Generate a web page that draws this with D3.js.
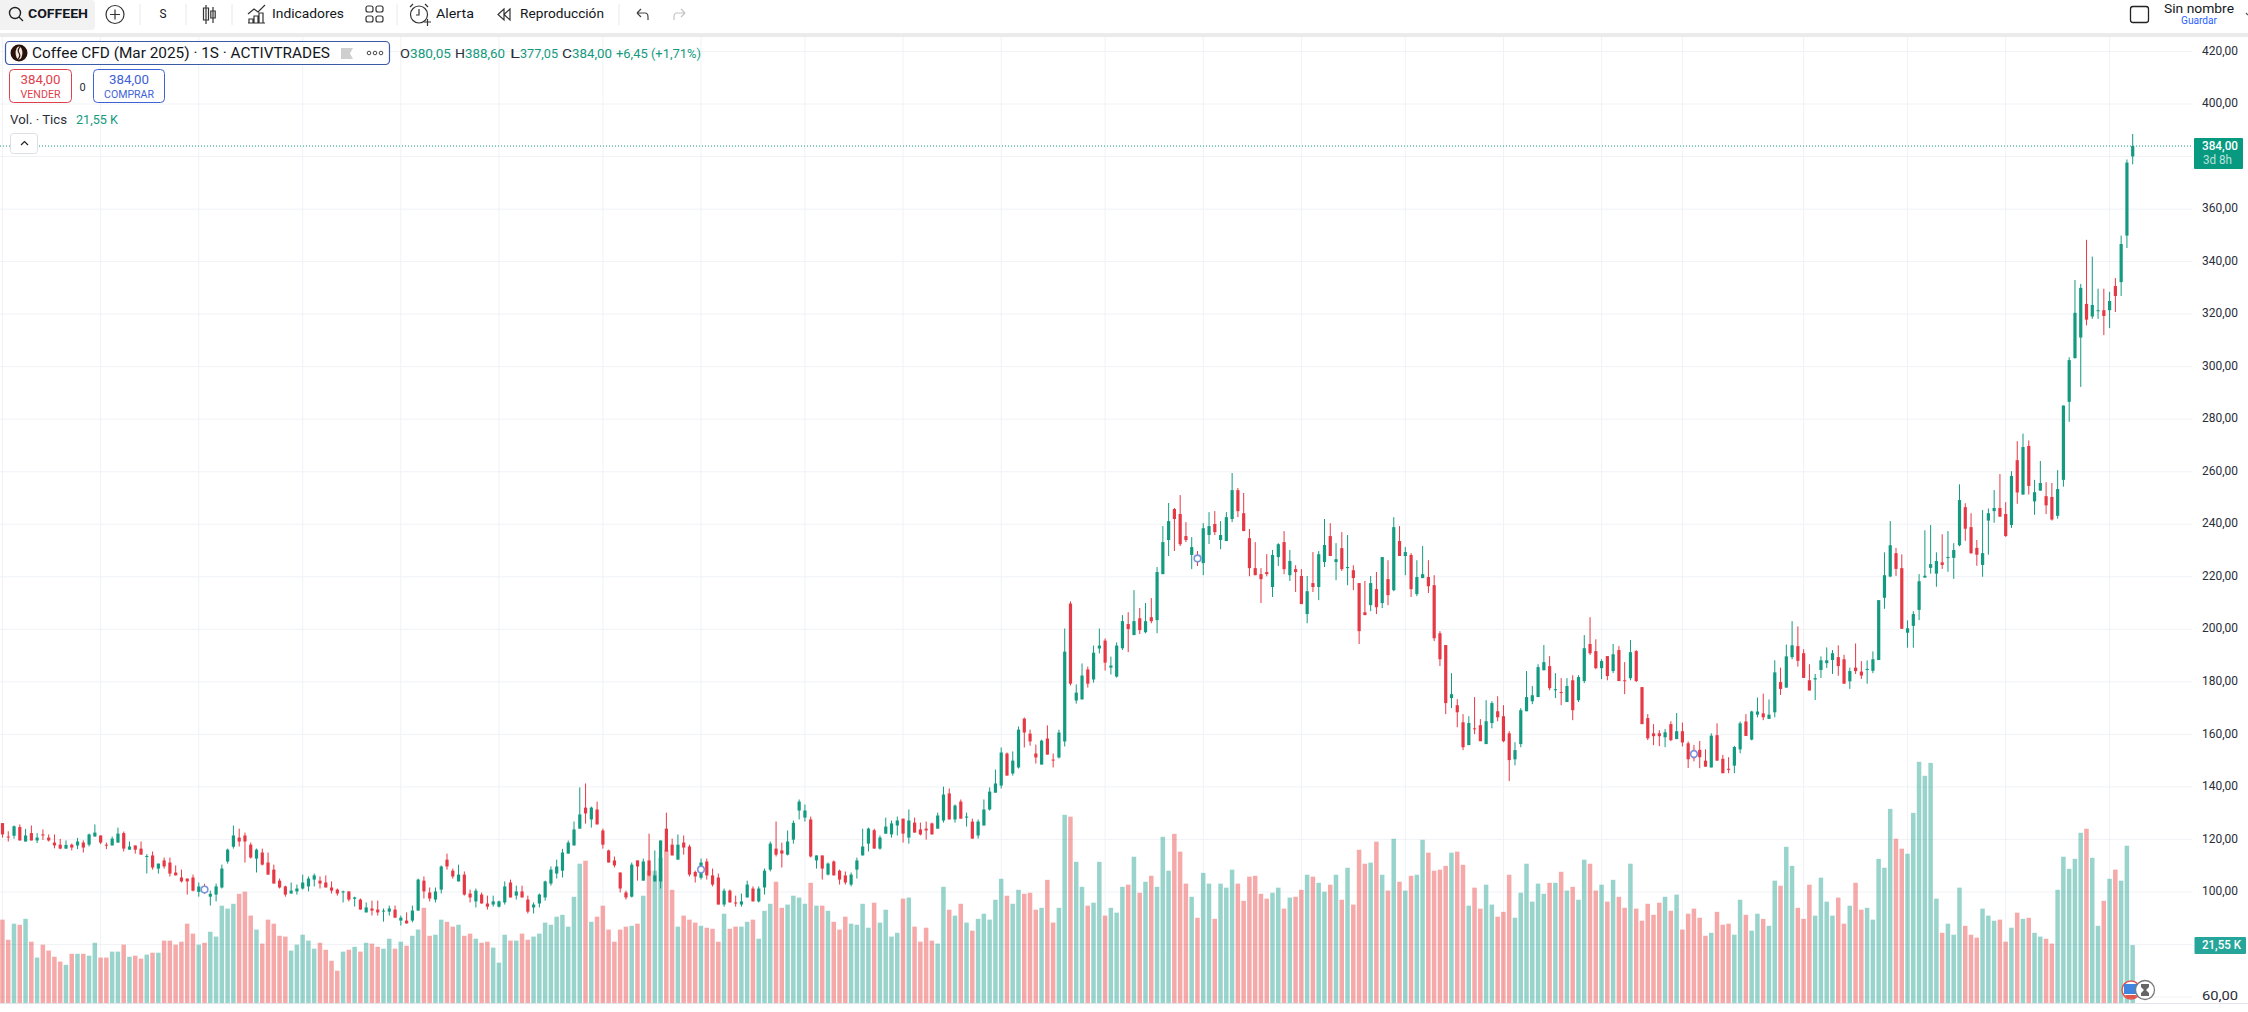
<!DOCTYPE html>
<html>
<head>
<meta charset="utf-8">
<title>Coffee CFD (Mar 2025)</title>
<script src="https://cdn.jsdelivr.net/npm/d3@7"></script>
<style>
  html, body { margin: 0; background: #fff; overflow: hidden; }
  text { font-family: Roboto, "Noto Sans", sans-serif; fill: #131722; }
</style>
</head>
<body>
<div id="chart"></div>
<script>
// weekly candles, oldest first
const opens = [
  126.2,121.1,121.4,124.7,119.2,122.4,119.6,121.9,120.7,118.8,
  118.0,116.5,118.0,117.7,118.8,118.0,121.1,121.5,118.0,117.7,
  118.8,122.4,116.1,117.7,116.5,113.4,113.9,108.9,112.0,111.2,
  107.4,105.5,105.1,105.5,100.0,101.8,98.2,99.0,101.7,111.6,
  117.2,120.7,121.5,118.0,112.7,115.0,111.2,108.5,104.3,102.1,
  99.4,100.2,101.3,102.1,104.7,104.3,103.6,101.7,100.9,99.9,
  100.2,97.4,97.1,92.2,93.7,93.3,92.7,92.5,93.3,89.1,
  89.1,89.1,92.9,104.3,99.8,97.1,100.9,112.3,108.1,104.0,
  106.6,99.4,96.4,99.0,95.6,95.2,94.4,96.0,103.6,98.6,
  100.2,97.1,94.1,95.6,97.9,103.2,107.0,108.1,114.6,117.7,
  124.1,132.1,127.6,131.4,123.4,115.8,112.0,107.4,99.8,98.2,
  112.0,104.3,112.0,104.0,104.0,124.1,118.0,112.3,118.8,117.3,
  107.6,105.4,111.6,106.3,105.5,95.2,100.5,96.0,95.2,97.9,
  101.3,96.4,101.7,108.5,116.5,115.8,114.2,119.9,131.0,128.3,
  127.6,112.0,113.9,106.6,111.6,108.1,106.3,102.8,108.5,113.9,
  118.4,123.5,116.5,122.2,121.9,125.3,127.9,120.7,126.4,123.8,
  124.1,126.1,124.1,127.2,137.5,127.6,134.4,128.3,126.8,121.5,
  125.3,131.4,137.8,140.5,152.7,145.1,147.4,166.0,160.3,152.7,
  148.5,158.4,150.4,151.2,157.3,209.8,172.9,173.3,184.7,180.9,
  192.7,195.7,185.4,182.0,192.8,202.0,197.8,204.2,198.9,204.6,
  203.5,221.0,234.0,245.8,243.9,235.5,228.3,228.3,225.2,235.9,
  240.1,234.0,233.6,242.0,253.0,244.2,234.7,223.3,221.0,221.8,
  216.1,227.5,233.2,220.6,222.9,220.3,205.8,217.6,216.1,225.6,
  235.5,225.6,230.9,223.3,222.5,217.6,206.5,209.2,215.3,210.0,
  219.1,214.9,233.6,227.9,228.3,213.4,219.5,219.9,216.8,198.5,
  194.0,173.8,171.1,164.6,155.9,162.3,163.5,156.3,164.3,168.8,
  166.9,160.4,150.5,156.3,168.8,172.6,174.2,184.4,186.0,176.8,
  176.1,172.3,180.6,173.0,180.3,194.4,191.7,185.2,189.8,184.1,
  192.1,180.6,181.4,191.7,178.0,166.2,160.4,160.4,158.9,163.9,
  158.2,161.2,156.6,154.1,154.1,150.0,147.4,159.7,150.7,146.9,
  148.1,154.3,164.9,158.0,167.5,168.0,165.9,168.4,179.9,177.8,
  189.4,193.6,190.9,180.6,180.9,184.5,187.1,188.3,189.4,188.6,
  180.2,185.4,183.9,184.5,184.2,188.3,212.0,220.1,229.0,223.3,
  198.7,201.3,207.4,219.7,223.4,221.2,225.5,227.2,227.2,232.0,
  246.5,238.9,231.0,224.5,241.4,245.0,246.2,243.9,239.7,264.4,
  251.3,269.8,248.7,252.8,250.7,250.4,243.2,256.9,286.6,303.3,
  311.1,323.9,319.1,321.2,321.5,321.5,330.7,332.2,349.9,380.05
]
const highs = [
  126.2,123.1,125.3,125.7,124.0,125.3,122.4,123.8,121.9,121.9,
  120.2,119.6,118.4,120.6,119.6,122.2,125.7,121.5,118.8,121.1,
  124.5,123.0,119.2,117.7,119.2,114.4,115.4,110.8,113.1,113.1,
  110.1,108.5,105.1,106.6,103.6,103.1,100.5,103.2,110.4,116.5,
  125.3,124.1,122.6,118.8,116.5,116.5,115.0,110.4,105.1,102.4,
  103.6,102.8,106.6,105.9,107.0,105.9,106.3,104.0,101.3,100.5,
  100.2,98.2,97.5,96.0,96.7,96.7,93.7,94.8,94.8,91.0,
  92.2,94.8,105.1,105.9,101.7,101.7,110.1,114.6,108.9,110.4,
  107.8,100.9,101.3,99.8,98.6,98.6,96.7,104.0,104.7,102.4,
  102.4,98.6,96.0,99.4,104.3,109.7,112.3,116.4,119.6,126.8,
  139.8,141.3,132.5,134.4,124.1,116.1,113.5,107.4,100.5,111.2,
  112.0,112.7,122.2,115.8,119.6,130.2,120.3,121.9,121.5,118.0,
  108.1,112.7,112.7,108.9,107.0,101.3,100.9,98.6,99.4,104.3,
  102.1,102.1,108.9,119.2,126.8,118.8,123.4,127.2,135.2,133.3,
  128.7,113.9,113.9,111.2,112.0,108.5,107.8,107.4,113.1,124.1,
  124.5,124.1,121.5,128.3,127.2,128.7,127.9,131.4,128.3,126.4,
  126.8,126.4,130.2,140.1,139.4,133.3,135.2,130.2,127.9,127.6,
  135.2,139.8,146.6,155.0,153.1,153.5,163.0,166.4,161.8,156.1,
  158.0,163.4,152.7,161.8,200.3,210.6,179.0,187.0,185.8,193.8,
  200.3,196.5,189.6,195.0,205.4,206.5,214.9,208.1,210.0,211.9,
  223.7,239.3,248.1,246.2,251.1,240.8,235.1,229.8,240.4,244.6,
  245.0,241.2,244.6,259.5,253.8,251.9,238.2,233.2,223.3,228.6,
  230.2,232.8,237.4,230.2,224.4,222.9,220.3,229.4,229.8,242.0,
  240.4,232.8,237.0,235.9,224.4,217.6,218.4,220.3,221.8,227.5,
  226.3,242.7,239.3,231.3,229.0,226.3,231.7,226.3,220.6,199.3,
  194.0,183.3,173.4,167.7,166.9,174.2,165.8,173.0,172.6,174.5,
  171.1,161.2,157.0,170.0,184.1,178.4,186.7,194.0,189.8,183.3,
  181.4,181.4,182.5,182.5,197.8,204.6,196.2,188.6,189.8,194.4,
  193.6,187.5,195.9,192.1,178.0,167.7,163.9,161.6,162.0,165.0,
  168.1,164.5,157.3,156.0,157.5,154.3,160.4,164.2,152.2,151.3,
  155.6,164.9,167.7,169.0,174.0,175.5,173.3,188.2,185.4,194.2,
  203.1,201.1,192.4,186.7,183.0,189.7,193.1,192.1,193.9,190.3,
  185.4,194.6,187.9,188.2,191.6,211.1,229.3,241.2,231.0,228.5,
  203.4,206.9,221.0,237.7,239.7,229.3,236.2,237.4,232.8,255.2,
  248.0,244.2,234.0,245.4,246.0,253.0,259.1,248.4,260.2,271.6,
  274.5,271.9,256.9,264.1,256.0,255.7,260.6,285.2,303.6,333.0,
  331.5,348.3,341.9,329.7,329.7,328.5,333.7,349.9,378.9,388.6
]
const lows = [
  120.7,119.2,120.3,119.6,119.2,119.6,118.6,119.8,119.2,116.6,
  116.3,116.4,115.8,116.3,115.0,117.3,121.1,118.2,116.3,117.7,
  118.8,115.4,116.1,114.6,114.2,107.0,108.5,107.0,108.9,105.9,
  106.3,103.6,99.0,100.2,98.2,99.3,94.8,96.4,101.3,110.8,
  116.5,117.3,111.2,112.7,107.4,110.1,106.6,103.2,101.3,98.2,
  99.4,99.0,100.9,100.2,102.1,101.3,101.7,99.4,98.6,96.0,
  96.4,94.4,93.3,92.2,91.0,91.0,88.7,91.0,90.2,87.2,
  88.0,88.4,92.9,97.5,96.4,96.0,99.4,108.5,105.1,104.0,
  98.6,96.0,94.1,95.6,93.3,94.4,94.1,95.2,97.9,97.1,
  97.9,91.8,91.8,94.1,96.7,102.4,105.1,105.5,114.6,117.7,
  124.1,126.0,124.5,125.7,116.5,111.2,109.3,99.8,97.1,97.9,
  104.3,104.3,105.9,104.0,101.3,115.4,113.9,112.3,114.2,105.9,
  103.6,104.7,104.7,102.1,95.2,94.4,96.0,94.4,94.4,97.9,
  96.4,96.0,99.0,107.8,113.5,109.3,113.9,118.4,127.6,126.8,
  113.1,108.9,104.7,106.3,106.3,102.8,102.8,102.1,105.1,113.9,
  115.4,116.5,116.1,122.2,120.7,121.5,118.8,118.4,122.6,121.5,
  119.9,121.9,124.1,126.4,127.6,126.4,127.9,124.9,120.3,120.3,
  125.3,131.0,137.8,139.4,144.3,144.3,147.0,155.0,155.7,148.9,
  148.5,152.3,147.4,150.8,155.4,178.6,171.7,173.3,177.8,179.7,
  190.8,184.3,182.8,181.6,192.1,191.3,197.8,198.2,198.5,202.3,
  198.5,221.0,227.9,229.8,231.7,233.2,222.9,224.1,220.6,232.5,
  235.9,230.5,233.6,240.8,242.7,237.4,220.2,220.6,210.0,220.2,
  212.3,224.1,221.0,218.4,214.2,209.6,202.3,214.2,211.1,223.7,
  227.9,218.7,222.2,216.8,214.9,194.4,205.4,206.9,205.8,208.1,
  209.2,214.5,227.9,220.6,212.3,212.6,219.5,213.8,195.5,186.0,
  167.7,170.0,162.7,154.0,155.9,160.1,157.4,156.3,162.3,165.0,
  157.0,142.2,148.2,155.1,168.8,171.5,174.2,184.4,176.8,173.8,
  171.1,172.3,165.4,172.3,179.5,190.2,184.8,181.0,180.6,183.3,
  180.3,175.3,180.6,179.9,163.9,157.8,155.9,155.5,155.1,157.4,
  158.2,155.4,147.2,149.7,147.1,147.7,147.4,150.0,145.2,145.2,
  145.2,152.8,159.4,157.7,166.5,165.4,165.9,166.5,175.0,177.8,
  188.6,185.8,181.5,176.7,173.1,181.5,185.3,183.0,182.3,179.3,
  177.3,183.0,181.1,179.3,183.3,188.3,207.8,219.8,220.3,200.2,
  193.0,193.0,203.5,219.7,221.2,216.2,223.0,221.9,219.2,231.6,
  233.7,228.7,224.2,220.0,228.4,240.6,242.9,235.2,238.6,247.8,
  251.3,251.3,243.6,252.8,243.9,241.4,242.1,254.3,279.0,303.0,
  292.3,315.7,318.2,318.2,312.0,314.7,320.8,326.9,345.2,377.05
]
const closes = [
  121.9,120.7,125.0,119.6,121.5,119.6,120.7,121.5,119.6,117.7,
  116.5,117.9,116.9,119.2,116.9,121.9,122.6,118.8,117.8,120.3,
  122.2,116.5,117.3,116.1,114.2,113.7,109.3,110.8,109.7,107.0,
  106.3,104.0,104.0,100.5,102.1,99.9,99.3,102.1,108.9,116.1,
  121.5,119.2,119.2,113.1,116.1,110.4,106.6,103.2,101.7,99.0,
  100.5,101.3,103.6,105.1,106.3,103.2,101.7,100.5,99.4,100.2,
  97.1,97.9,93.3,94.1,92.9,92.2,92.9,93.7,90.2,90.2,
  88.0,92.9,104.7,100.2,97.5,100.2,109.7,109.7,105.9,106.6,
  99.0,97.9,100.5,95.6,94.4,96.4,96.4,102.1,97.9,100.2,
  97.9,92.5,95.2,99.0,104.0,108.5,109.7,115.0,118.8,123.8,
  129.5,129.9,132.1,125.7,118.0,111.2,110.1,101.3,97.9,110.4,
  109.7,111.6,106.3,106.3,119.6,115.4,113.9,118.0,116.9,106.6,
  105.9,111.2,106.3,102.8,95.2,100.5,96.0,95.6,96.4,102.8,
  96.4,101.3,108.1,118.4,114.2,114.6,119.2,126.3,134.4,131.0,
  113.5,113.9,108.9,110.8,106.3,104.7,103.6,106.6,112.0,117.3,
  124.1,116.5,120.7,124.9,126.1,127.2,122.2,127.2,122.6,121.9,
  123.4,121.9,129.1,137.1,127.6,132.9,127.9,128.7,120.3,126.8,
  131.4,138.2,141.3,153.1,144.3,150.0,161.8,160.7,157.3,151.2,
  157.6,152.3,150.2,160.7,191.5,179.3,175.9,182.4,179.3,191.1,
  193.8,187.3,186.2,193.8,203.1,200.1,203.1,199.7,203.1,203.1,
  221.8,233.2,241.2,242.0,232.4,234.0,231.3,225.6,238.5,239.3,
  237.0,235.9,242.7,253.0,245.0,237.4,223.3,220.6,219.1,221.0,
  228.3,232.4,222.9,226.0,221.8,209.6,214.5,216.1,228.6,232.1,
  227.9,226.7,222.9,223.7,219.5,199.3,205.4,217.6,208.4,227.5,
  213.0,238.9,227.9,229.4,215.3,219.9,221.0,216.4,196.6,188.6,
  171.9,175.3,168.4,155.1,164.3,162.0,157.4,165.0,171.9,166.5,
  157.4,150.2,154.0,169.2,174.2,174.9,185.6,187.5,177.6,177.2,
  175.7,178.4,169.2,181.8,192.8,190.9,185.2,187.9,182.2,190.5,
  180.3,180.4,191.3,180.3,163.9,158.5,159.3,159.3,160.8,157.8,
  161.2,156.9,150.5,150.9,151.3,147.7,159.5,150.0,145.2,146.5,
  155.2,164.2,159.4,168.7,168.7,166.5,167.5,183.6,177.3,189.7,
  193.9,188.0,181.5,176.7,181.4,188.2,188.2,190.9,186.0,179.3,
  184.1,184.1,182.4,184.9,188.6,211.1,220.6,232.0,223.0,200.2,
  200.4,205.8,218.3,220.4,224.8,226.0,224.5,227.5,230.2,249.2,
  238.3,229.0,228.4,229.0,244.2,246.2,242.9,235.5,258.4,252.1,
  269.4,254.6,252.2,255.7,247.2,241.8,253.4,285.2,302.5,320.5,
  330.0,317.9,323.5,321.5,319.3,325.0,326.9,346.7,377.7,384.0
]
// tick volume, thousands
const volumes = [
  31.0,23.5,29.5,29.1,31.3,22.8,16.9,21.7,19.5,17.2,
  15.4,14.2,18.3,18.3,18.3,17.6,22.4,16.9,16.9,19.1,
  19.1,21.7,17.2,17.6,16.5,18.0,18.7,18.7,23.2,23.2,
  21.7,22.8,29.5,25.8,21.7,22.4,26.5,24.7,36.2,35.1,
  36.9,40.6,41.4,32.5,27.3,22.1,31.0,29.5,25.0,24.7,
  19.5,21.7,25.4,23.2,20.2,22.4,19.8,15.7,12.0,19.1,
  19.8,20.9,19.1,22.4,22.1,20.9,20.2,23.9,20.2,22.8,
  21.3,25.0,27.3,35.4,25.0,25.4,31.0,30.2,28.4,29.1,
  25.0,25.8,23.9,22.4,22.8,20.6,15.0,25.4,23.2,23.2,
  25.8,23.5,24.7,25.8,29.9,29.1,32.1,32.8,28.4,39.5,
  51.8,52.9,30.2,32.1,36.2,27.3,22.8,27.3,28.4,28.7,
  29.5,39.9,49.2,49.2,54.0,57.0,42.1,28.4,32.5,31.0,
  29.9,28.7,28.0,27.6,22.8,33.2,27.6,28.4,28.4,30.2,
  31.0,23.9,34.3,36.9,45.1,35.4,36.6,39.9,39.2,36.9,
  44.7,36.2,36.2,34.3,30.2,27.3,32.1,29.5,29.1,36.9,
  28.0,37.3,29.9,34.7,24.7,26.1,38.8,39.2,28.4,22.8,
  28.0,23.2,22.1,43.2,34.7,32.5,36.9,29.9,26.9,31.3,
  33.2,31.0,38.4,46.2,39.9,36.9,42.1,40.6,41.0,34.7,
  35.4,45.8,29.9,35.4,70.0,69.3,52.5,43.2,36.2,37.3,
  52.5,32.5,35.4,33.6,43.2,44.0,54.4,41.0,45.1,47.3,
  43.2,61.8,49.2,62.9,56.3,44.4,39.5,31.7,48.4,44.4,
  31.3,44.4,42.9,49.6,44.4,38.0,47.0,47.3,40.6,38.8,
  41.0,42.9,35.1,39.2,39.5,42.1,47.7,47.0,44.7,41.4,
  44.0,47.7,38.4,50.3,36.6,57.0,51.8,52.2,60.0,47.7,
  41.8,61.1,45.1,41.8,47.3,47.7,60.7,55.9,49.2,49.6,
  51.0,55.9,56.3,51.4,36.2,42.9,35.1,44.0,36.6,32.1,
  33.9,47.7,31.7,41.0,51.8,37.7,44.4,40.6,44.7,44.7,
  48.8,41.8,43.2,38.4,53.3,51.8,41.8,44.0,37.7,45.8,
  39.5,35.4,51.8,35.1,30.6,36.9,32.8,37.3,39.5,34.3,
  40.3,27.3,33.2,35.1,31.7,25.0,26.1,33.9,29.1,29.5,
  25.4,38.4,32.8,26.9,33.2,31.3,28.7,45.5,43.6,58.1,
  51.0,35.4,31.3,44.0,32.5,46.6,37.7,32.5,39.2,29.5,
  36.2,44.7,34.7,35.4,31.0,53.6,50.3,72.2,61.1,57.4,
  55.5,70.7,89.7,84.5,89.3,38.8,26.1,29.5,25.4,42.9,
  28.7,25.4,24.3,35.1,32.5,30.6,31.0,22.8,28.0,33.6,
  31.3,31.7,26.1,24.7,23.9,22.1,42.1,54.4,49.9,53.6,
  63.3,64.8,54.0,28.7,38.0,46.2,49.6,45.5,58.5,21.55
]
const priceTicks = d3.range(60, 421, 20)
const hiddenPriceLabels = [80, 380]      // covered by the two tags on the axis
const timeGridBars = [0,17,34,52,69,86,104,121,139,156,173,191,208,225,243,260,277,291,312,330,347,365]
const eventBars = [35, 121, 207, 293]
const eventPrices = [100.9, 108.5, 227, 152.5]
const lastPrice = 384
const lastVolume = 21.55

const GREEN = '#149a80', RED = '#e63946', BLUE = '#2962ff'
const plotRight = 2192, plotTop = 37, plotBottom = 1003

const svg = d3.select('#chart').append('svg').attr('width', 2248).attr('height', 1012)
  .style('display', 'block')

const x = d3.scaleLinear().domain([0, closes.length - 1]).range([2.5, 2132.7])
const y = d3.scaleLinear().domain([60, 420]).range([997, 51.5])
const yVol = d3.scaleLinear().domain([0, 90]).range([plotBottom, plotBottom - 242])

const comma = v => d3.format('.2f')(v).replace('.', ',')

// text stretched to the width measured on the picture
function label(parent, px, py, str, o = {}) {
  const t = parent.append('text').attr('x', px).attr('y', py + 0.8).attr('dominant-baseline', 'middle')
    .attr('font-size', o.size || 13).attr('text-anchor', o.anchor || 'start').text(str)
  if (o.color) t.style('fill', o.color)
  if (o.weight) t.attr('font-weight', o.weight)
  if (o.width) t.attr('textLength', o.width).attr('lengthAdjust', 'spacingAndGlyphs')
  return t
}

// grid
const grid = svg.append('g')
grid.selectAll('line.v').data(timeGridBars).join('line').attr('class', 'v')
  .attr('x1', d => x(d)).attr('x2', d => x(d)).attr('y1', plotTop).attr('y2', plotBottom)
  .attr('stroke', '#f0f2f6').attr('stroke-width', 1)
grid.selectAll('line.h').data(priceTicks).join('line').attr('class', 'h')
  .attr('x1', 0).attr('x2', plotRight).attr('y1', d => y(d)).attr('y2', d => y(d))
  .attr('stroke', '#f0f2f6').attr('stroke-width', 1)

// volume under the candles
const bars = d3.range(closes.length)
const isUp = i => closes[i] >= opens[i]
svg.append('g').selectAll('rect').data(bars).join('rect')
  .attr('x', i => x(i) - 2.3).attr('width', 4.5)
  .attr('y', i => yVol(volumes[i])).attr('height', i => plotBottom - yVol(volumes[i]))
  .attr('fill', i => isUp(i) ? 'rgba(8,150,130,0.41)' : 'rgba(230,50,50,0.42)')

// candles
const candles = svg.append('g')
candles.selectAll('line').data(bars).join('line')
  .attr('x1', i => x(i)).attr('x2', i => x(i))
  .attr('y1', i => y(highs[i])).attr('y2', i => y(lows[i]))
  .attr('stroke', i => isUp(i) ? GREEN : RED).attr('stroke-width', 1)
candles.selectAll('rect').data(bars).join('rect')
  .attr('x', i => x(i) - 1.6).attr('width', 3.2)
  .attr('y', i => y(Math.max(opens[i], closes[i])))
  .attr('height', i => Math.max(1, Math.abs(y(opens[i]) - y(closes[i]))))
  .attr('fill', i => isUp(i) ? GREEN : RED)

// event markers
svg.append('g').selectAll('circle').data(eventBars).join('circle')
  .attr('cx', d => x(d)).attr('cy', (d, i) => y(eventPrices[i])).attr('r', 3.3)
  .attr('fill', '#fff').attr('stroke', '#7c93dd').attr('stroke-width', 1.6)

// last price line
svg.append('line').attr('x1', 0).attr('x2', plotRight).attr('y1', y(lastPrice)).attr('y2', y(lastPrice))
  .attr('stroke', GREEN).attr('stroke-dasharray', '1 2').attr('stroke-width', 1)

// price axis
const axis = svg.append('g').attr('transform', `translate(${plotRight},-1.5)`)
  .call(d3.axisRight(y)
    .tickValues(priceTicks.filter(d => !hiddenPriceLabels.includes(d)))
    .tickFormat(comma).tickSize(0))
axis.select('.domain').remove()
axis.selectAll('text').attr('x', 46).attr('text-anchor', 'end').attr('font-size', 13)
  .attr('textLength', 36).attr('lengthAdjust', 'spacingAndGlyphs')
  .style('fill', '#2a2e39')

// axis tags
svg.append('rect').attr('x', 2194).attr('y', y(lastPrice) - 8).attr('width', 49).attr('height', 31)
  .attr('rx', 1).attr('fill', '#089981')
label(svg, 2238, y(lastPrice), comma(lastPrice), { anchor: 'end', color: '#fff', size: 13, width: 36, weight: 500 })
label(svg, 2232, y(lastPrice) + 14, '3d 8h', { anchor: 'end', color: '#b8e2da', size: 13, width: 29 })
const volTagY = yVol(lastVolume)
svg.append('rect').attr('x', 2194.5).attr('y', volTagY - 8).attr('width', 51.5).attr('height', 17)
  .attr('rx', 1).attr('fill', '#26a69a')
label(svg, 2241, volTagY, '21,55 K', { anchor: 'end', color: '#fff', size: 13, width: 39, weight: 500 })

// bottom edge
svg.append('line').attr('x1', 0).attr('x2', 2248).attr('y1', plotBottom + 0.5).attr('y2', plotBottom + 0.5)
  .attr('stroke', '#e3e5ea')

// session and hourglass badges
const badges = svg.append('g')
badges.append('circle').attr('cx', 2131).attr('cy', 990).attr('r', 9).attr('fill', '#fff')
  .attr('stroke', '#e2564f').attr('stroke-width', 1.5)
badges.append('path').attr('d', 'M2124,984 h13 v10 h-13 z').attr('fill', '#3f86e0')
badges.append('path').attr('d', 'M2125,995 h12 l-2,3 h-8 z').attr('fill', '#e2564f')
badges.append('circle').attr('cx', 2145).attr('cy', 990).attr('r', 9.5).attr('fill', '#fff')
  .attr('stroke', '#7a7a7a').attr('stroke-width', 1.3)
badges.append('path').attr('d', 'M2141,984 h8 v3 l-3,3 l3,3 v3 h-8 v-3 l3,-3 l-3,-3 z').attr('fill', '#666')

// top toolbar
const bar = svg.append('g')
bar.append('rect').attr('x', 0).attr('y', 0).attr('width', 2248).attr('height', 33).attr('fill', '#fff')
bar.append('rect').attr('x', 0).attr('y', 33).attr('width', 2248).attr('height', 4).attr('fill', '#ebebeb')
bar.append('rect').attr('x', -6).attr('y', 0).attr('width', 101).attr('height', 30).attr('rx', 4).attr('fill', '#f2f2f2')
bar.selectAll('line.sep').data([140, 186, 232, 397, 619]).join('line').attr('class', 'sep')
  .attr('x1', d => d).attr('x2', d => d).attr('y1', 4).attr('y2', 25).attr('stroke', '#e8e8e8')

const stroke = (g, d, c = '#333') => g.append('path').attr('d', d).attr('fill', 'none')
  .attr('stroke', c).attr('stroke-width', 1.2)

// search
bar.append('circle').attr('cx', 15).attr('cy', 13).attr('r', 5.5).attr('fill', 'none').attr('stroke', '#222').attr('stroke-width', 1.4)
stroke(bar, 'M19,17 l4,4', '#222')
label(bar, 28, 14, 'COFFEEH', { size: 13, weight: 700, width: 60 })
// add
bar.append('circle').attr('cx', 115).attr('cy', 14.5).attr('r', 9).attr('fill', 'none').attr('stroke', '#333').attr('stroke-width', 1.2)
stroke(bar, 'M110,14.5 h10 M115,9.5 v10')
label(bar, 163, 14, 'S', { anchor: 'middle', size: 13, width: 7 })
// candle type
stroke(bar, 'M206,5 v19 M203.5,8 h5 v12 h-5 z M213,7 v16 M210.8,11 h4.4 v7 h-4.4 z')
// indicators
stroke(bar, 'M248,14 l6,-5 l4,3 l7,-7 M249,23 v-4 h4 v4 M254,23 v-7 h4 v7 M259,23 v-10 h4 v10 M248,23 h17')
label(bar, 272, 14, 'Indicadores', { size: 13, width: 72 })
// layouts
bar.selectAll('rect.tile').data([[368, 7], [378, 7], [368, 17], [378, 17]]).join('rect').attr('class', 'tile')
  .attr('x', d => d[0] - 2).attr('y', d => d[1] - 1).attr('width', 7).attr('height', 6).attr('rx', 2)
  .attr('fill', 'none').attr('stroke', '#333').attr('stroke-width', 1.2)
// alert
bar.append('circle').attr('cx', 419).attr('cy', 14.5).attr('r', 8.5).attr('fill', 'none').attr('stroke', '#333').attr('stroke-width', 1.2)
stroke(bar, 'M419,9 v6 h-3 M410,7 l3,-3 M428,7 l-3,-3 M424,22 h7 M427.5,19 v7')
label(bar, 436, 14, 'Alerta', { size: 13, width: 38 })
// replay
stroke(bar, 'M504,9 l-6,5.5 l6,5.5 z M510,9 l-6,5.5 l6,5.5 z')
label(bar, 520, 14, 'Reproducción', { size: 13, width: 84 })
// undo, redo
stroke(bar, 'M637,13 h8 q3,0 3,4 v3 M637,13 l4,-4 M637,13 l4,4', '#444')
stroke(bar, 'M685,13 h-8 q-3,0 -3,4 v3 M685,13 l-4,-4 M685,13 l-4,4', '#c4c4c4')
// save box
bar.append('rect').attr('x', 2130.5).attr('y', 6.5).attr('width', 18).attr('height', 16).attr('rx', 2.5)
  .attr('fill', 'none').attr('stroke', '#222').attr('stroke-width', 1.3)
label(bar, 2164, 9, 'Sin nombre', { size: 13, width: 70 })
label(bar, 2181, 21, 'Guardar', { size: 10, width: 36, color: BLUE })
stroke(bar, 'M2246,13 l2,2', '#555')

// legend
const legend = svg.append('g')
legend.append('rect').attr('x', 5.5).attr('y', 41.5).attr('width', 384).attr('height', 23).attr('rx', 4)
  .attr('fill', '#fff').attr('stroke', '#3b5aa8').attr('stroke-width', 1.2)
legend.append('circle').attr('cx', 19).attr('cy', 53).attr('r', 8.5).attr('fill', '#2a120c')
legend.append('ellipse').attr('cx', 19).attr('cy', 53).attr('rx', 3.4).attr('ry', 6.5).attr('fill', '#f2e7df')
stroke(legend, 'M20,47 q-3,3 -1,6 q2,3 -1,6', '#2a120c')
label(legend, 32, 53.5, 'Coffee CFD (Mar 2025) · 1S · ACTIVTRADES', { size: 15, width: 298 })
legend.append('path').attr('d', 'M341,48 h12 l-3,5.5 l3,5.5 h-12 z').attr('fill', '#cfcfcf')
legend.selectAll('circle.dot').data([369, 375, 381]).join('circle').attr('class', 'dot')
  .attr('cx', d => d).attr('cy', 53).attr('r', 1.8).attr('fill', 'none').attr('stroke', '#333').attr('stroke-width', 0.9)

const ohlc = [['O', '380,05', 400, 50], ['H', '388,60', 455, 49], ['L', '377,05', 510, 47], ['C', '384,00', 562, 49]]
ohlc.forEach(([k, v, px, w]) => {
  label(legend, px, 53.5, k, { size: 13, width: 10, color: '#2a2e39' })
  label(legend, px + 10, 53.5, v, { size: 13, width: w - 10 + 1, color: GREEN })
})
label(legend, 616, 53.5, '+6,45 (+1,71%)', { size: 13, width: 85, color: GREEN })

// sell / buy
const trade = (bx, w, c, word, wordW) => {
  legend.append('rect').attr('x', bx).attr('y', 69.5).attr('width', w).attr('height', 33).attr('rx', 4)
    .attr('fill', '#fff').attr('stroke', c).attr('stroke-width', 1)
  label(legend, bx + w / 2, 80, '384,00', { anchor: 'middle', size: 13, width: 40, color: c })
  label(legend, bx + w / 2, 94, word, { anchor: 'middle', size: 11, width: wordW, color: c })
}
trade(9.5, 62, '#e0404c', 'VENDER', 40)
label(legend, 82.5, 87, '0', { anchor: 'middle', size: 11, color: '#2a2e39' })
trade(93.5, 71, '#3f62d6', 'COMPRAR', 50)

label(legend, 10, 120, 'Vol. · Tics', { size: 13, width: 57, color: '#2a2e39' })
label(legend, 76, 120, '21,55 K', { size: 13, width: 42, color: GREEN })
legend.append('rect').attr('x', 10.5).attr('y', 133.5).attr('width', 27).attr('height', 20).attr('rx', 3)
  .attr('fill', '#fff').attr('stroke', '#dcdfe6')
stroke(legend, 'M21,145 l3.5,-3.5 l3.5,3.5', '#222')
</script>
</body>
</html>
